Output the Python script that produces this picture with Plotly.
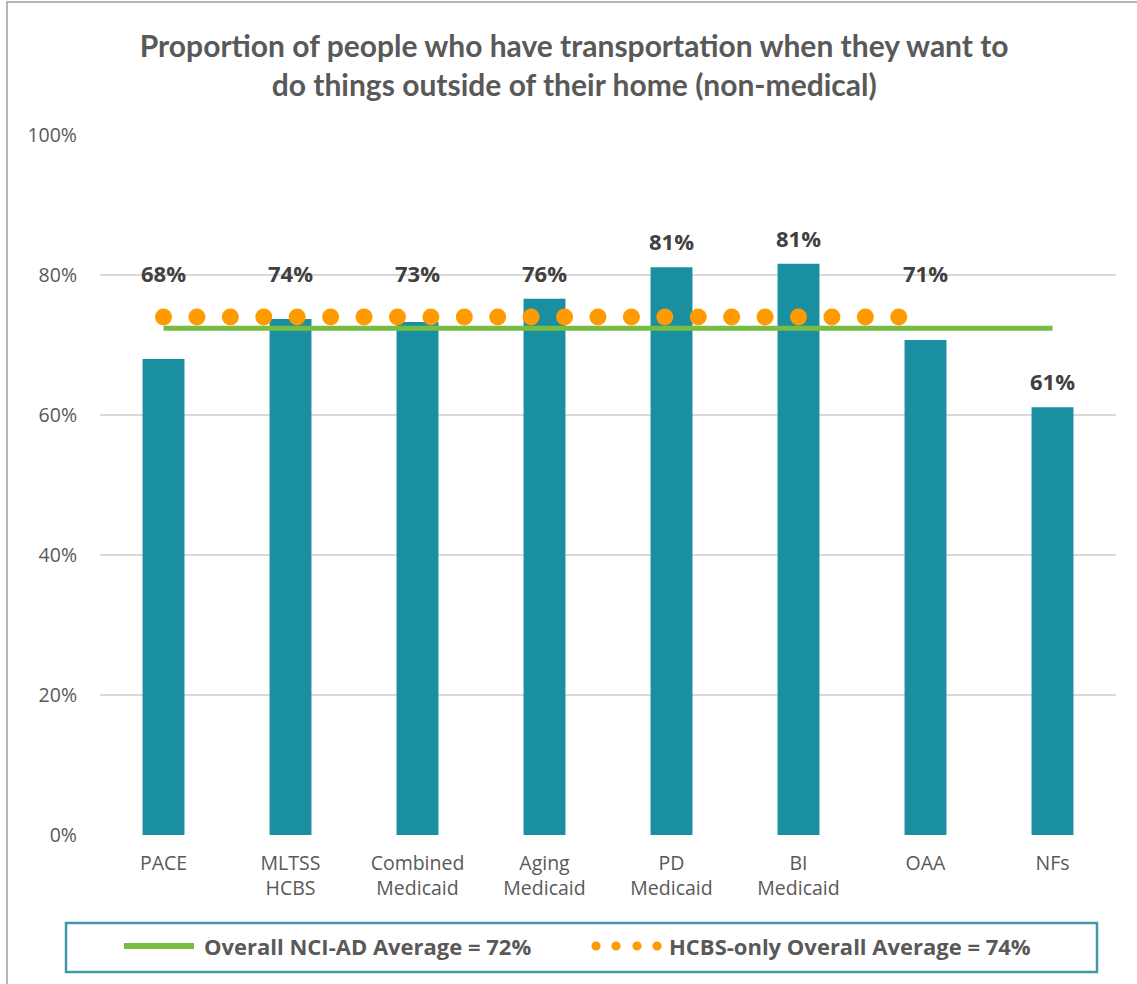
import numpy as np
import plotly.graph_objects as go

categories = ["PACE", "MLTSS<br>HCBS", "Combined<br>Medicaid", "Aging<br>Medicaid",
              "PD<br>Medicaid", "BI<br>Medicaid", "OAA", "NFs"]
values = [68.0, 73.7, 73.3, 76.6, 81.1, 81.6, 70.7, 61.1]
value_labels = ["68%", "74%", "73%", "76%", "81%", "81%", "71%", "61%"]
overall_avg = 72.4
hcbs_avg = 74.0
hcbs_last_index = 6  # HCBS-only line runs from PACE through OAA
y_ticks = [0, 20, 40, 60, 80, 100]
y_tick_labels = ["0%", "20%", "40%", "60%", "80%", "100%"]
legend_labels = ["Overall NCI-AD Average = 72%", "HCBS-only Overall Average = 74%"]

W, H = 1137, 984
L, R, T, B = 100, 21, 135, 149
PW, PH = W - L - R, H - T - B

def px(xp):
    return (xp - L) / PW

def py(yp):
    return (H - B - yp) / PH

BAR = "#1A8FA1"
GREEN = "#77BC43"
ORANGE = "#FF9A00"
TXT = "#595959"
LBL = "#404040"
FONT = "Open Sans"
TFONT = "Lato"

xi = list(range(len(categories)))
fig = go.Figure()
fig.add_trace(go.Bar(x=xi, y=values, width=0.33, marker=dict(color=BAR, line=dict(width=0)),
                     hoverinfo="skip", showlegend=False))
fig.add_trace(go.Scatter(x=[xi[0], xi[-1]], y=[overall_avg, overall_avg], mode="lines",
                         line=dict(color=GREEN, width=5), hoverinfo="skip", showlegend=False))
# round-dot dashed line rendered as evenly spaced dots along the average
dot_step = 1 / 3.8
dot_x = np.arange(xi[0], hcbs_last_index + 1e-9, dot_step)
fig.add_trace(go.Scatter(x=dot_x, y=[hcbs_avg] * len(dot_x), mode="markers",
                         marker=dict(color=ORANGE, size=17, line=dict(width=0)),
                         hoverinfo="skip", showlegend=False))

label_floor = 76.6
for i, (v, t) in enumerate(zip(values, value_labels)):
    anchor = max(v, label_floor) if i <= hcbs_last_index else v
    fig.add_annotation(x=i, y=anchor, text="<b>%s</b>" % t, showarrow=False,
                       yanchor="middle", yshift=26, font=dict(family=FONT, size=22, color=LBL))

shapes = []
# outer chart border (only top and left edges fall inside the picture)
shapes.append(dict(type="rect", xref="paper", yref="paper", x0=px(7), x1=px(1400),
                   y0=py(1200), y1=py(2), line=dict(color="#A0A0A0", width=1.5)))
# legend box
shapes.append(dict(type="rect", xref="paper", yref="paper", x0=px(66), x1=px(1097),
                   y0=py(972), y1=py(923), line=dict(color="#3E9AA6", width=2.5),
                   fillcolor="rgba(0,0,0,0)"))
shapes.append(dict(type="line", xref="paper", yref="paper", x0=px(124), x1=px(194),
                   y0=py(946), y1=py(946), line=dict(color=GREEN, width=6)))
for cx in [596, 616, 637, 657]:
    r = 4.6
    shapes.append(dict(type="circle", xref="paper", yref="paper", x0=px(cx - r), x1=px(cx + r),
                       y0=py(946 + r), y1=py(946 - r), fillcolor=ORANGE, line=dict(width=0)))

fig.add_annotation(xref="paper", yref="paper", x=px(202), y=py(946), xanchor="left",
                   yanchor="middle", showarrow=False, text="<b>%s</b>" % legend_labels[0],
                   font=dict(family=FONT, size=22, color=TXT))
fig.add_annotation(xref="paper", yref="paper", x=px(667), y=py(946), xanchor="left",
                   yanchor="middle", showarrow=False, text="<b>%s</b>" % legend_labels[1],
                   font=dict(family=FONT, size=22, color=TXT))

fig.update_layout(
    width=W, height=H, margin=dict(l=L, r=R, t=T, b=B, autoexpand=False),
    paper_bgcolor="white", plot_bgcolor="white",
    title=dict(text="<b>Proportion of people who have transportation when they want to<br>"
                    "do things outside of their home (non-medical)</b>",
               x=0.505, xanchor="center", y=1 - 57 / H, yanchor="middle",
               font=dict(family=TFONT, size=30, color=TXT)),
    shapes=shapes,
    xaxis=dict(range=[-0.5, len(categories) - 0.5], tickvals=xi, ticktext=categories,
               showgrid=False, zeroline=False, showline=False, ticks="",
               ticklabelstandoff=14,
               tickfont=dict(family=FONT, size=19.5, color=TXT), fixedrange=True),
    yaxis=dict(range=[0, 100], tickvals=y_ticks, ticktext=y_tick_labels,
               showgrid=True, gridcolor="#D9D9D9", gridwidth=2, zeroline=False,
               showline=False, ticks="", ticklabelstandoff=22,
               tickfont=dict(family=FONT, size=19.5, color=TXT), fixedrange=True),
    font=dict(family=FONT),
)
fig.write_html("out.html", config={"displayModeBar": False},
               post_script="document.body.style.margin='0px';")
